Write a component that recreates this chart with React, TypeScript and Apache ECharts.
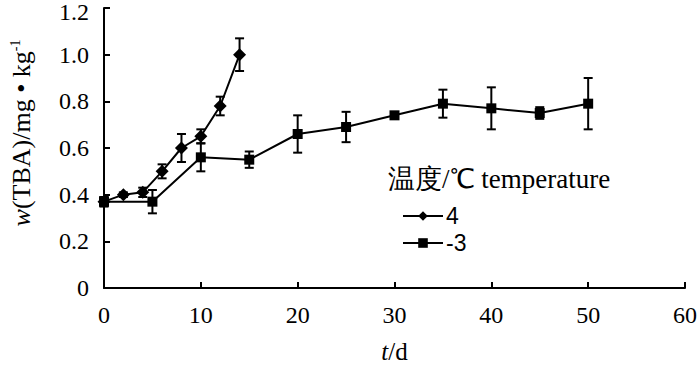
import React, { useEffect, useRef } from "react";
import * as echarts from "echarts";

const days4 = [0, 2, 4, 6, 8, 10, 12, 14];
const tba4 = [0.37, 0.4, 0.41, 0.5, 0.6, 0.65, 0.78, 1.0];
const err4 = [0.02, 0.01, 0.02, 0.03, 0.06, 0.03, 0.04, 0.07];

const daysM3 = [0, 5, 10, 15, 20, 25, 30, 35, 40, 45, 50];
const tbaM3 = [0.37, 0.37, 0.56, 0.55, 0.66, 0.69, 0.74, 0.79, 0.77, 0.75, 0.79];
const errM3 = [0.02, 0.05, 0.06, 0.035, 0.08, 0.065, 0.01, 0.06, 0.09, 0.025, 0.11];

const seriesNames = ["4", "-3"];
const legendTitle = "温度/℃ temperature";
const xName = "{i|t}/d";
const yName = "{i|w}(TBA)/mg • kg{sup|-1}";

const SERIF = "Liberation Serif";
const SANS = "Liberation Sans";

function errRender(params: any, api: any) {
  const x = api.value(0);
  const y = api.value(1);
  const e = api.value(2);
  const top = api.coord([x, y + e]);
  const bot = api.coord([x, y - e]);
  const w = 4.5;
  const st = { stroke: "#000", lineWidth: 2 };
  return {
    type: "group",
    children: [
      { type: "line", shape: { x1: top[0], y1: top[1], x2: bot[0], y2: bot[1] }, style: st },
      { type: "line", shape: { x1: top[0] - w, y1: top[1], x2: top[0] + w, y2: top[1] }, style: st },
      { type: "line", shape: { x1: bot[0] - w, y1: bot[1], x2: bot[0] + w, y2: bot[1] }, style: st },
    ],
  };
}

export default function App() {
  const ref = useRef<HTMLDivElement>(null);
  useEffect(() => {
    if (!ref.current) return;
    const chart = echarts.init(ref.current, null, { renderer: "svg" });
    const line4 = days4.map((d, i) => [d, tba4[i]]);
    const lineM3 = daysM3.map((d, i) => [d, tbaM3[i]]);
    const eb4 = days4.map((d, i) => [d, tba4[i], err4[i]]);
    const ebM3 = daysM3.map((d, i) => [d, tbaM3[i], errM3[i]]);
    chart.setOption({
      animation: false,
      backgroundColor: "#fff",
      textStyle: { fontFamily: SERIF },
      grid: { left: 100, right: 14, top: 8, bottom: 78, containLabel: false },
      xAxis: {
        type: "value",
        min: 0,
        max: 60,
        interval: 10,
        splitLine: { show: false },
        axisLine: { lineStyle: { color: "#000", width: 2 } },
        axisTick: { inside: true, length: 6, lineStyle: { color: "#000", width: 2 } },
        axisLabel: { color: "#000", fontFamily: SERIF, fontSize: 24, margin: 15 },
        name: xName,
        nameLocation: "middle",
        nameGap: 51,
        nameTextStyle: {
          color: "#000",
          fontFamily: SERIF,
          fontSize: 25,
          rich: { i: { fontStyle: "italic", fontFamily: SERIF, fontSize: 25, color: "#000" } },
        },
      },
      yAxis: {
        type: "value",
        min: 0,
        max: 1.2,
        interval: 0.2,
        splitLine: { show: false },
        axisLine: { show: true, lineStyle: { color: "#000", width: 2 } },
        axisTick: { show: true, inside: true, length: 6, lineStyle: { color: "#000", width: 2 } },
        axisLabel: {
          color: "#000",
          fontFamily: SERIF,
          fontSize: 24,
          margin: 15,
          formatter: (v: number) => {
            if (v === 0) return "0";
            if (Math.abs(v - 1.2) < 1e-6) return "{t|1.2}";
            return v.toFixed(1);
          },
          rich: { t: { fontFamily: SERIF, fontSize: 24, color: "#000", padding: [8, 0, 0, 0] } },
        },
        name: yName,
        nameLocation: "middle",
        nameRotate: 90,
        nameGap: 69,
        nameTextStyle: {
          color: "#000",
          fontFamily: SERIF,
          fontSize: 26,
          padding: [0, 0, 0, 30],
          rich: {
            i: { fontStyle: "italic", fontFamily: SERIF, fontSize: 26, color: "#000" },
            sup: { fontFamily: SERIF, fontSize: 14, color: "#000", padding: [0, 0, 13, 0] },
          },
        },
      },
      legend: {
        data: seriesNames,
        orient: "vertical",
        left: 397,
        top: 199,
        itemWidth: 40,
        itemHeight: 12,
        itemGap: 3,
        textStyle: { color: "#000", fontFamily: SANS, fontSize: 23, lineHeight: 24, padding: [0, 0, 0, -2] },
      },
      graphic: [
        {
          type: "text",
          left: 388,
          top: 165,
          style: { text: legendTitle, fill: "#000", fontFamily: SERIF, fontSize: 27 },
        },
      ],
      series: [
        { type: "custom", name: "eb4", data: eb4, encode: { x: 0, y: 1 }, renderItem: errRender, z: 1 },
        { type: "custom", name: "ebM3", data: ebM3, encode: { x: 0, y: 1 }, renderItem: errRender, z: 1 },
        {
          type: "line",
          name: seriesNames[1],
          data: lineM3,
          symbol: "rect",
          symbolSize: 10,
          lineStyle: { color: "#000", width: 2 },
          itemStyle: { color: "#000" },
          z: 3,
        },
        {
          type: "line",
          name: seriesNames[0],
          data: line4,
          symbol: "diamond",
          symbolSize: 13,
          lineStyle: { color: "#000", width: 2 },
          itemStyle: { color: "#000" },
          z: 4,
        },
      ],
    });
    return () => chart.dispose();
  }, []);
  return <div ref={ref} style={{ position: "fixed", left: 0, top: 0, width: 700, height: 369 }} />;
}
